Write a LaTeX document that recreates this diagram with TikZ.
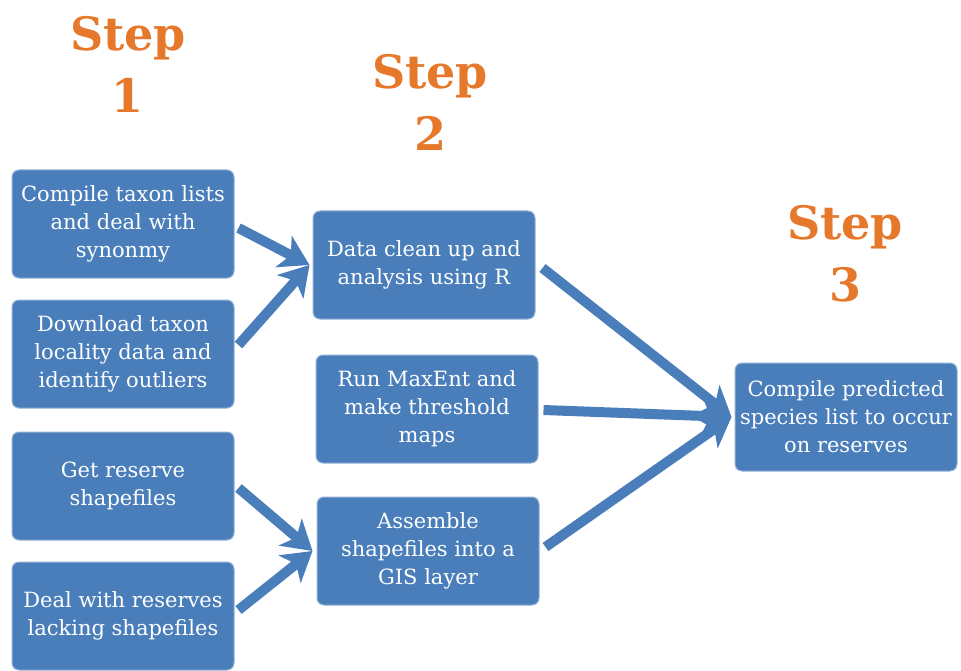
\documentclass[tikz,border=0pt]{standalone}
\usepackage{fontspec}
\setmainfont{DejaVu Serif}
\usetikzlibrary{arrows.meta}
\definecolor{boxblue}{HTML}{4A7EBB}
\definecolor{stepor}{HTML}{E5782A}
\begin{document}
\begin{tikzpicture}[x=1pt,y=-1pt,
  box/.style={draw=boxblue!60!white, line width=1pt, fill=boxblue, rounded corners=7pt,
    minimum width=222pt, minimum height=108pt, inner sep=0pt, text=white, align=center,
    font=\fontsize{21}{28}\selectfont},
  steplbl/.style={text=stepor, align=center, font=\fontsize{46}{62}\selectfont\bfseries},
  conn/.style={draw=boxblue, line width=10pt, -{Stealth[length=29pt,width=35pt,inset=8pt]}}]
\useasboundingbox (0,0) rectangle (961,671);
\node[steplbl] (s1) at (128,64) {Step\\1};
\node[steplbl] (s2) at (430,102) {Step\\2};
\node[steplbl] (s3) at (845,254) {Step\\3};
\node[box] (a) at (123,224) {Compile taxon lists\\and deal with\\synonmy};
\node[box] (b) at (123,354) {Download taxon\\locality data and\\identify outliers};
\node[box] (c) at (123,486) {Get reserve\\shapefiles};
\node[box] (d) at (123,616) {Deal with reserves\\lacking shapefiles};
\node[box] (e) at (424,265) {Data clean up and\\analysis using R};
\node[box] (f) at (427,409) {Run MaxEnt and\\make threshold\\maps};
\node[box] (g) at (428,551) {Assemble\\shapefiles into a\\GIS layer};
\node[box] (h) at (846,417) {Compile predicted\\species list to occur\\on reserves};
\draw[conn] ([xshift=4pt,yshift=-4pt]a.east) -- ([xshift=-3pt]e.west);
\draw[conn] ([xshift=4pt,yshift=9pt]b.east) -- ([xshift=-3pt]e.west);
\draw[conn] ([xshift=4pt,yshift=-2pt]c.east) -- ([xshift=-4pt]g.west);
\draw[conn] ([xshift=4pt,yshift=6pt]d.east) -- ([xshift=-4pt]g.west);
\draw[conn] ([xshift=7pt,yshift=-3pt]e.east) -- ([xshift=-3pt]h.west);
\draw[conn] ([xshift=5pt,yshift=-1pt]f.east) -- ([xshift=-3pt]h.west);
\draw[conn] ([xshift=6pt,yshift=4pt]g.east) -- ([xshift=-3pt]h.west);
\end{tikzpicture}
\end{document}
